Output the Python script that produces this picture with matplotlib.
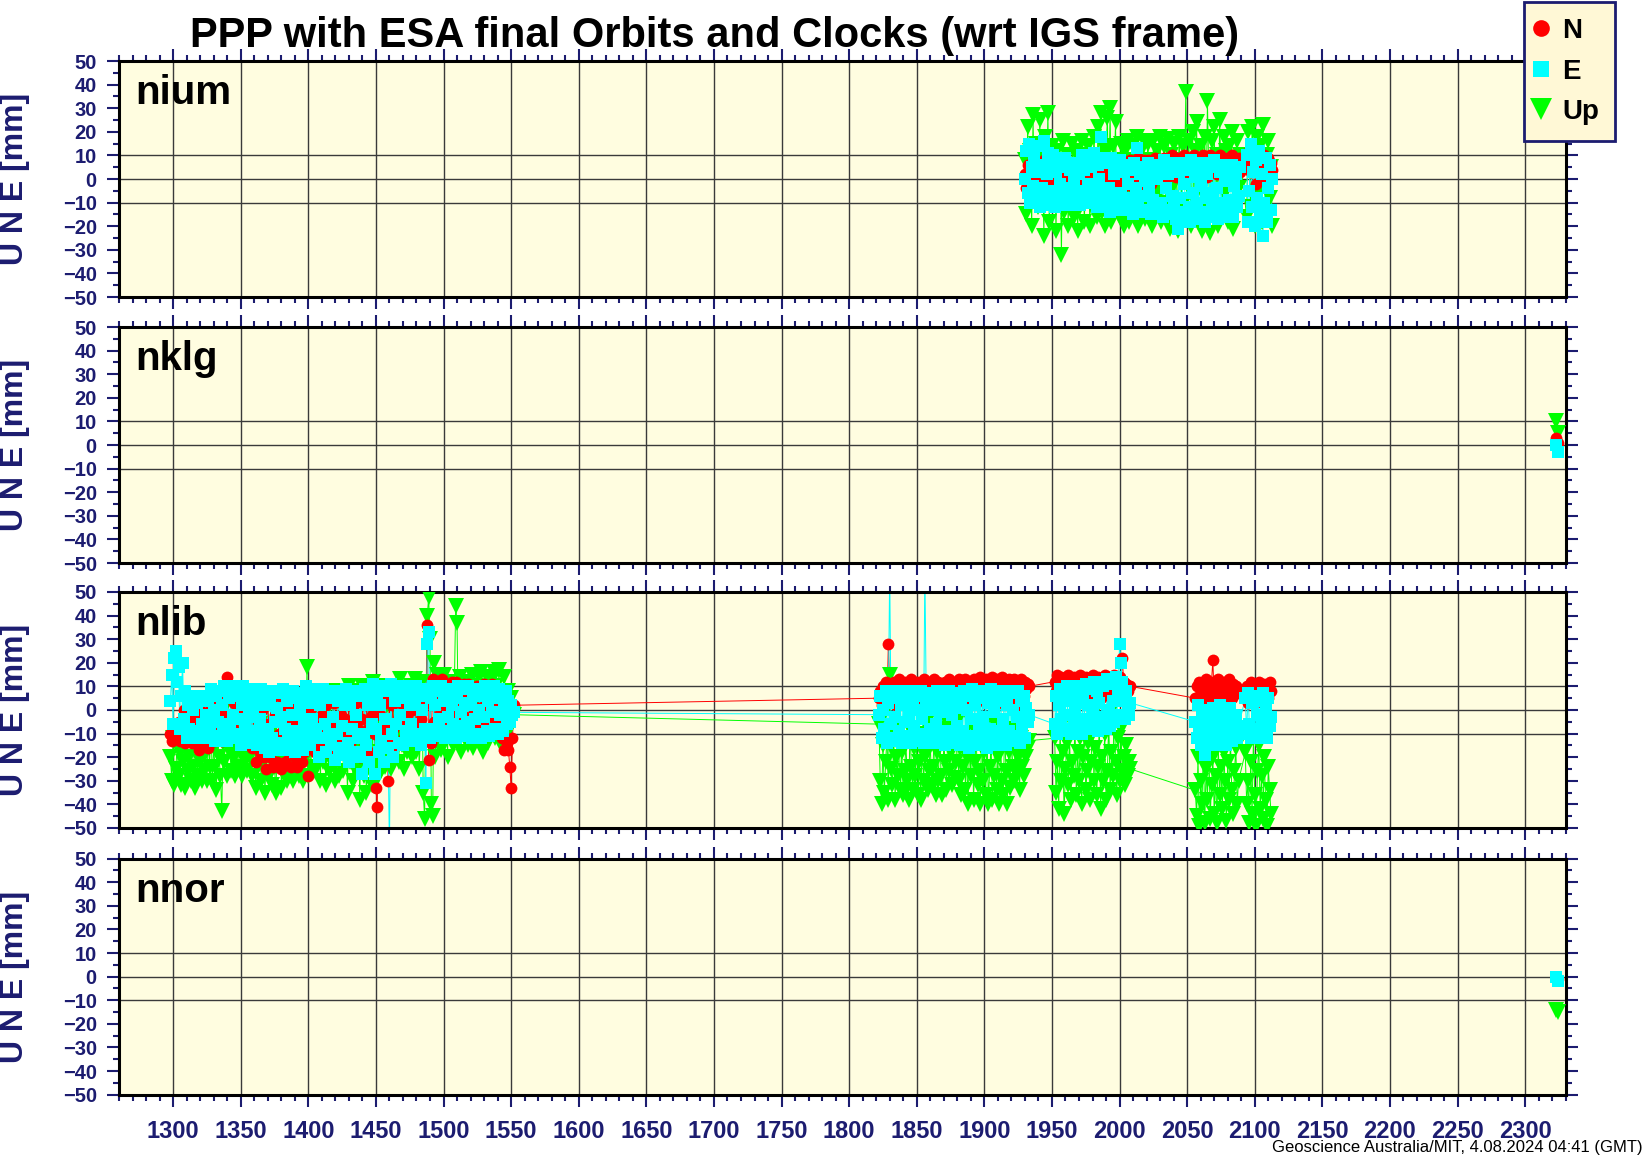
import matplotlib
matplotlib.use('Agg')
import matplotlib.pyplot as plt
import numpy as np
from matplotlib.lines import Line2D
from matplotlib.ticker import MultipleLocator

plt.rcParams['font.family'] = ['Liberation Sans', 'DejaVu Sans']

# ---- data (GPS week, mm), weekly samples ----
stations = ['nium', 'nklg', 'nlib', 'nnor']

nium_weeks = np.r_[np.arange(1930, 2090), np.arange(2094, 2114)]
nium_N = ([2, -4, 6, -1, 4, -6, 8, 0, -3, 5]
          + [-2, 6, -5, 3, 8, -4, 1, 5, -6, 2]
          + [4, -3, 7, 0, -5, 5, 2, -2, 6, -4]
          + [1, 6, -3, 4, -6, 7, 0, 3, -4, 5]
          + [-2, 6, 2, -5, 7, 1, -3, 5, 8, -1]
          + [3, -4, 6, 0, 8, -2, 4, 7, -5, 2]
          + [6, -1, 4, -5, 7, 2, -3, 5, 1, 8]
          + [0, 5, -4, 7, 3, -2, 6, 1, 8, -3]
          + [4, 7, -1, 5, 9, 2, -3, 6, 8, 0]
          + [5, 8, 2, -2, 7, 4, 9, 1, 6, 3]
          + [8, 2, 6, 9, 0, 5, 8, 3, 7, 10]
          + [4, 8, 1, 6, 9, 3, 7, 5, 10, 2]
          + [6, 9, 3, 8, 5, 10, 2, 7, 9, 4]
          + [8, 3, 10, 6, 9, 1, 7, 10, 4, 8]
          + [5, 9, 2, 8, 10, 4, 7, 9, 3, 6]
          + [9, 4, 8, 10, 5, 2, 8, 6, 9, 3]
          + [6, 10, 12, 3, 8, 5, 9, -2, 7, 4]
          + [8, 2, 6, 10, 0, 5, 9, 3, 7, 4])
nium_E = ([0, 12, -6, 15, -10, 5, -3, 10, -8, 3]
          + [14, -12, 6, -4, 16, -9, 2, 11, -11, 7]
          + [-5, 10, -12, 3, -8, 8, -2, -11, 5, -6]
          + [9, -4, -11, 4, -8, 7, -1, -10, 6, -6]
          + [2, -11, 10, -5, 4, -9, 8, -2, -10, 5]
          + [-7, 11, -3, -12, 6, 0, 18, -9, 9, -5]
          + [-12, 7, -4, -14, 9, -8, 2, -11, 6, -13]
          + [8, -6, -13, 3, -10, 6, -2, -12, 4, -8]
          + [-15, 7, -4, 13, -11, 2, -14, 5, -7, -1]
          + [-13, 7, -5, -15, 3, -9, 6, -12, 0, -14]
          + [5, -10, -16, 8, -4, -13, 2, -15, 7, -7]
          + [-11, 6, -17, -21, 3, -8, -14, 7, -2, -16]
          + [4, -12, -18, 8, -6, -15, 1, -10, 6, -17]
          + [-3, -14, 7, -18, -8, 2, -16, 5, -11, -6]
          + [8, -15, -4, -17, 3, -10, 6, -13, -1, -16]
          + [4, -9, -14, 6, -16, -3, 2, -12, -7, 5]
          + [10, -18, -5, 15, -12, 3, -20, 8, -8, 12]
          + [-15, 2, -24, -10, 9, -18, -4, 6, -13, 0])
nium_U = ([8, -15, 22, 0, 12, -20, 27, -8, 15, 5]
          + [-12, 25, -6, 10, -24, 18, -2, 28, -18, 6]
          + [14, -10, 4, -22, 12, -5, 8, -32, 16, -14]
          + [0, 10, -20, 6, -8, 15, -16, 2, 12, -22]
          + [8, -12, 16, 0, -18, 10, -6, 14, -20, 4]
          + [-10, 18, 6, -16, 22, 0, 28, -14, 10, -20]
          + [12, 26, -8, 30, -18, 14, 2, 24, -12, 8]
          + [-16, 15, 4, -20, 12, -6, 16, -18, 8, 0]
          + [14, -14, 6, 18, -20, 2, 12, -8, 16, -17]
          + [4, 15, -12, 8, -20, 16, 0, -15, 12, -6]
          + [18, -18, 6, 14, -10, 2, 17, -21, 10, -4]
          + [15, -16, 8, -22, 18, 4, -12, 14, 0, 37]
          + [-14, 16, 6, -20, 20, -8, 12, 24, -18, 4]
          + [14, -22, 8, 18, -12, 33, 2, -23, 16, -8]
          + [22, -16, 10, -20, 25, 4, -14, 18, -6, 12]
          + [-18, 14, 2, 20, -21, 8, -10, 16, -4, 10]
          + [-16, 20, 4, -12, 22, 10, -20, 6, 18, -6]
          + [14, -18, 23, 0, -14, 10, 16, -8, 5, -20])

nklg_weeks = [2323, 2324]
nklg_N = [3, 1]
nklg_E = [0, -3]
nklg_U = [10, 5]

nlib_weeks = np.r_[np.arange(1298, 1553), np.arange(1822, 1934), np.arange(1952, 2009),
                   np.arange(2056, 2089), np.arange(2093, 2113)]
nlib_N = ([-10, -13, -6, -12, -8, -11, -5, -13, -9, -7]
          + [0, -14, -6, 2, -11, -3, -14, 1, -8, -12]
          + [-4, -17, 0, -9, -15, -2, -12, -6, -16, 0]
          + [-8, 4, -13, -3, 2, -11, -6, 3, -13, -1]
          + [5, -8, 14, -2, -10, 8, -5, 3, -9, 6]
          + [-3, 7, -12, 0, -14, 5, -8, 2, -11, 6]
          + [-16, 3, -10, -22, -4, 2, -18, -8, 0, -20]
          + [-6, -25, 3, -12, -20, 5, -24, -2, -16, -22]
          + [-10, 6, -25, -15, 0, -22, -5, -18, 4, -24]
          + [-12, 2, -20, -6, -24, 4, -15, -22, -2, -18]
          + [-8, 7, -28, 0, -14, 5, -6, -18, 3, -10]
          + [6, -15, -2, 7, -12, 2, -18, -5, 6, -9]
          + [-16, 3, 8, -7, -12, 5, -2, -14, 8, -4]
          + [7, -10, 2, -14, 8, -5, -12, 3, 8, -8]
          + [-20, 6, -4, 8, -15, 2, -8, -18, 7, -2]
          + [5, -10, -33, -41, 8, -2, -15, 6, -9, 3]
          + [-6, -30, 7, -12, 2, -8, 6, -15, 4, -3]
          + [9, -5, 2, -12, 8, -2, 5, -8, 9, 0]
          + [-6, 10, -12, 4, 8, -4, 1, -10, 6, 3]
          + [36, -21, 8, -14, 13, -5, 3, -9, 10, -2]
          + [6, 13, -8, 2, 10, -5, 7, -9, 12, 0]
          + [-4, 12, 5, -10, 9, 1, -7, 11, -3, 6]
          + [11, -6, 4, 9, -2, 7, -5, 10, 1, -4]
          + [8, -8, 11, 2, -5, 9, -3, 6, 11, -7]
          + [4, 9, -6, 7, -2, -12, 5, -17, 3, -14]
          + [-17, -24, -33, -12, 2]
          # 1822-1933
          + [5, 8, 2, 10, 6, 12, 3, 28, 9, 11]
          + [4, 12, 7, 2, 10, 13, 5, 9, 3, 12]
          + [8, 2, 11, 6, 13, 4, 10, 7, 12, 3]
          + [11, 5, 9, 13, 2, 10, 7, 12, 4, 11]
          + [6, 13, 3, 9, 12, 5, 11, 8, 2, 12]
          + [9, 4, 13, 7, 11, 3, 12, 6, 10, 13]
          + [5, 12, 8, 2, 13, 10, 6, 12, 4, 11]
          + [13, 7, 3, 12, 9, 14, 5, 11, 8, 13]
          + [4, 12, 10, 6, 14, 8, 2, 13, 9, 11]
          + [6, 14, 3, 10, 12, 7, 13, 5, 11, 9]
          + [13, 4, 12, 8, 2, 13, 10, 6, 12, 9, 11, 10]
          # 1952-2008
          + [12, 8, 15, 10, 5, 14, 9, 13, 6, 11]
          + [15, 8, 12, 5, 14, 10, 7, 13, 9, 15]
          + [6, 12, 10, 14, 8, 13, 5, 11, 15, 9]
          + [12, 7, 14, 10, 5, 13, 9, 15, 8, 11]
          + [14, 6, 12, 9, 15, 7, 13, 10, 14, 11]
          + [22, 12, 9, 11, 8, 10, 10]
          # 2056-2088
          + [5, 10, 3, 12, 7, 11, 4, 9, 13, 6]
          + [10, 8, 12, 21, 5, 11, 9, 13, 7, 10]
          + [4, 12, 8, 11, 6, 13, 9, 5, 11, 8]
          + [10, 7, 9]
          # 2093-2112
          + [6, 10, 3, 9, 12, 5, 11, 8, 4, 10]
          + [12, 6, 9, 3, 11, 7, 10, 5, 12, 8])
nlib_E = ([4, 15, -6, 22, 25, 12, 18, -8, 6, 20]
          + [-4, 8, -12, 2, -8, 6, -11, 0, 5, -9]
          + [3, -12, 6, -6, -10, 4, -2, -12, 5, -7]
          + [9, -11, 0, -13, 6, -5, 8, -12, 2, -8]
          + [10, -6, -13, 5, -9, 8, -2, -12, 10, -4]
          + [-10, 6, -15, 2, 10, -8, -13, 4, -3, 9]
          + [-14, 0, 8, -9, -15, 5, -4, 9, -12, 2]
          + [-16, 6, -8, -18, 3, -12, 8, -5, -17, 1]
          + [7, -14, -3, 9, -17, -8, 4, -12, 6, -16]
          + [-2, 8, -18, -9, 5, -14, 0, 7, -17, -5]
          + [10, -10, 3, -15, 8, -4, -12, 6, -8, 9]
          + [-20, 2, -12, 9, -6, -18, 5, -10, 7, -15]
          + [-3, 8, -21, -10, 4, -16, 6, -7, -19, 2]
          + [9, -14, -22, 3, -8, 7, -18, -2, 8, -12]
          + [-20, 6, -27, -10, 9, -15, 2, -22, 5, -6]
          + [11, -27, -8, 6, -18, 2, -13, 10, -22, -4]
          + [8, -16, -60, 11, -10, -20, 4, -6, 9, -14]
          + [-2, 10, -15, 5, -9, 8, -12, 2, -6, 10]
          + [-13, 4, 10, -10, 6, -15, 0, 9, -8, -31]
          + [28, 33, -12, 5, 10, -8, 2, -11, 8, -4]
          + [10, -9, 4, -12, 7, -3, 9, -10, 2, -6]
          + [8, -12, 5, 10, -7, -1, 9, -11, 3, -5]
          + [10, -8, 2, -12, 7, -4, 9, -10, 0, 6]
          + [-12, 8, -3, 10, -9, 4, -11, 7, -1, 10]
          + [-8, 5, -10, 9, -2, 6, -9, 3, 8, -6]
          + [4, -5, 2, -2, -1]
          # 1822-1933
          + [-2, 6, -12, 0, -8, 8, -14, 3, 60, -6]
          + [-12, 5, -3, -13, 8, -9, 2, -14, 6, -5]
          + [7, -11, -2, 8, -14, 3, -7, 6, -13, 0]
          + [-10, 8, -4, -14, 60, 5, -12, 0, -8, 7]
          + [-14, 2, -6, 8, -13, -1, 6, -11, 4, -15]
          + [3, -9, 8, -14, -2, 6, -12, 1, -7, 7]
          + [-15, 4, -9, 8, -13, 0, 6, -16, -4, 9]
          + [-11, 2, -15, 7, -6, -14, 8, -3, -10, 5]
          + [-16, 3, -8, 9, -13, -1, 7, -15, 4, -9]
          + [8, -12, -4, 6, -15, 2, -9, 8, -13, 0]
          + [7, -11, -3, 8, -14, 4, -7, 6, -12, 1, -5, -2]
          # 1952-2008
          + [-6, 6, -10, 2, 9, -4, -9, 5, -2, 10]
          + [-8, 4, -10, 8, -3, 1, -9, 10, -6, 3]
          + [-10, 7, -4, 11, -8, 2, 9, -7, -1, 12]
          + [-5, 8, -9, 3, 12, -6, 10, -3, -8, 13]
          + [0, -7, 11, 4, -5, 14, -2, 9, 28, 20]
          + [12, 4, -4, 8, 0, -2, 3]
          # 2056-2088
          + [-5, -12, 2, -8, -15, -1, -10, -19, -4, -13]
          + [0, -9, -14, 1, -6, -15, -2, -11, 2, -13]
          + [-7, -12, 0, -15, -4, -10, 1, -13, -6, -9]
          + [-2, -12, -7]
          # 2093-2112
          + [5, -10, 7, -6, -12, 3, -8, 6, -11, -2]
          + [4, -12, -5, 7, -9, 0, -12, 5, -7, -3])
nlib_U = ([-20, -30, -12, -32, -25, -15, -28, -18, -32, -22]
          + [-14, -33, -8, -26, -20, -30, -12, -24, -33, -16]
          + [-28, -10, -22, -30, -14, -26, -18, -30, -12, -24]
          + [-5, -30, -16, -24, -34, -10, -20, -28, -43, -14]
          + [-22, 2, -28, -12, -18, -26, -6, -20, -28, -10]
          + [-24, 5, -18, -28, -8, -22, -14, -26, 0, -20]
          + [-28, -10, 3, -33, -18, -24, -6, -30, -14, -22]
          + [-35, -12, 4, -28, -20, -32, -8, -24, -35, -16]
          + [-22, 0, -33, -14, -26, -8, -30, -18, -4, -28]
          + [-12, -30, 4, -24, -16, -28, -6, -22, -30, -10]
          + [-20, 18, -28, -10, -24, 5, -16, -26, 2, -18]
          + [-8, -30, 8, -22, -14, -32, 0, -26, -10, -20]
          + [8, -24, -30, -12, 4, -28, -18, -6, -26, 6]
          + [-16, -35, 10, -22, -8, -30, 2, -26, -14, 8]
          + [-38, -12, 10, -28, -20, -35, 4, -24, -10, -32]
          + [12, -22, -30, -6, 8, -18, -26, 10, -14, -24]
          + [2, -20, 10, -25, -8, 6, -18, -12, 9, -22]
          + [13, -15, -6, -25, 8, -18, 2, -12, 10, -20]
          + [-8, 13, -18, 6, -25, -10, 12, -35, -46, 4]
          + [40, 48, 30, -40, -45, 20, -20, 15, -8, 13]
          + [-17, 5, 15, -12, 8, -20, 12, -6, 2, -15]
          + [10, 44, 37, -12, 14, -18, 6, 10, -8, 3]
          + [-15, 12, -6, 15, -16, 4, 10, -10, 14, -4]
          + [16, -18, 8, -10, 14, -14, 4, 12, -8, 16]
          + [-12, 10, -4, 17, -14, 6, -8, 14, 2, -10]
          + [8, -4, 5, -2, -2]
          # 1822-1933
          + [-6, -30, -40, -15, -35, -22, -10, -38, 15, -25]
          + [-32, -12, -38, -20, -28, -8, -34, -18, -36, -26]
          + [-14, -30, -38, -8, -24, -34, -16, -28, -10, -36]
          + [-22, -38, -12, -30, -20, -6, -34, -26, -14, -32]
          + [-24, -10, -36, -18, -30, -8, -28, -36, -14, -22]
          + [-34, -6, -26, -18, -32, -12, -29, -22, -5, -30]
          + [-16, -36, -24, -10, -34, -20, -40, -14, -28, -6]
          + [-38, -22, -12, -32, -26, -40, -8, -30, -18, -36]
          + [-10, -40, -24, -16, -38, -28, -6, -34, -20, -40]
          + [-14, -30, -36, -8, -26, -40, -18, -33, -12, -24]
          + [-30, -8, -27, -20, -34, -12, -24, -28, -6, -20, -16, -13]
          # 1952-2008
          + [-12, -35, -22, -42, -8, -30, -18, -44, -25, -14]
          + [-32, -10, -38, -22, -28, -5, -36, -18, -30, -12]
          + [-40, -20, -8, -34, -26, -14, -38, -22, -2, -30]
          + [-16, -36, -24, -6, -42, -20, -30, -10, -38, -26]
          + [-4, -34, -18, -28, 2, -22, -36, -12, -30, -8]
          + [-26, -20, -32, -15, -28, -22, -25]
          # 2056-2088
          + [-34, -45, -20, -49, -30, -40, -15, -48, -25, -38]
          + [-12, -46, -32, -20, -44, -28, -48, -15, -36, -24]
          + [-42, -18, -30, -47, -22, -38, -12, -34, -44, -26]
          + [-16, -40, -30]
          # 2093-2112
          + [-18, -40, -30, -48, -22, -44, -12, -36, -49, -26]
          + [-15, -42, -28, -46, -20, -38, -49, -24, -34, -44])

nnor_weeks = [2323, 2324]
nnor_N = [0, -1]
nnor_E = [0, -2]
nnor_U = [-14, -15]

data = {
    'nium': (nium_weeks, nium_N, nium_E, nium_U),
    'nklg': (nklg_weeks, nklg_N, nklg_E, nklg_U),
    'nlib': (nlib_weeks, nlib_N, nlib_E, nlib_U),
    'nnor': (nnor_weeks, nnor_N, nnor_E, nnor_U),
}

# ---- style ----
navy = '#1C1C70'
bg = '#FFFDE0'
c_n, c_e, c_u = '#FF0000', '#00FFFF', '#00FF00'

fig = plt.figure(figsize=(16.44, 11.58), dpi=100)
bottoms = [0.7435, 0.5138, 0.2850, 0.0547]
left, width, height = 0.0724, 0.880, 0.2038

for i, name in enumerate(stations):
    wk, n, e, u = data[name]
    ax = fig.add_axes([left, bottoms[i], width, height])
    ax.set_facecolor(bg)
    # connecting lines first, symbols on top of all lines
    for vals, col in ((u, c_u), (n, c_n), (e, c_e)):
        ax.plot(wk, vals, color=col, lw=0.7, zorder=2)
    ax.plot(wk, u, ls='none', color=c_u, marker='v', ms=11, mew=0, zorder=3)
    ax.plot(wk, n, ls='none', color=c_n, marker='o', ms=8.5, mew=0, zorder=3)
    ax.plot(wk, e, ls='none', color=c_e, marker='s', ms=9, mew=0, zorder=3)

    ax.set_xlim(1260, 2330)
    ax.set_ylim(-50, 50)
    ax.xaxis.set_major_locator(MultipleLocator(50))
    ax.xaxis.set_minor_locator(MultipleLocator(10))
    ax.yaxis.set_major_locator(MultipleLocator(10))
    ax.yaxis.set_minor_locator(MultipleLocator(5))

    ax.grid(axis='x', which='major', color='#3a3a3a', lw=1, zorder=1)
    for yv in (-10, 0, 10):
        ax.axhline(yv, color='#3a3a3a', lw=1, zorder=1)
    ax.set_axisbelow(True)

    for sp in ax.spines.values():
        sp.set_linewidth(2.2)
        sp.set_color('black')

    ax.tick_params(which='both', direction='out', top=True, right=True,
                   color=navy, width=1.5, labelcolor=navy)
    ax.tick_params(which='major', length=8.5)
    ax.tick_params(which='minor', length=4.5)
    ax.tick_params(axis='y', labelsize=14.5, pad=7.5)
    ax.tick_params(axis='x', labelsize=17, pad=9.5, labelbottom=(i == 3))
    plt.setp(ax.get_yticklabels(), fontweight='bold')
    plt.setp(ax.get_xticklabels(), fontweight='bold')

    ax.set_ylabel('U N E [mm]', fontsize=23, fontweight='bold', color=navy)
    ax.yaxis.set_label_coords(-0.0615, 0.5)

    ax.text(0.011, 0.818, name, transform=ax.transAxes, fontsize=29,
            fontweight='bold', va='baseline', zorder=5)

fig.text(0.4346, 1 - 46.7 / 1158, 'PPP with ESA final Orbits and Clocks (wrt IGS frame)',
         ha='center', va='baseline', fontsize=30, fontweight='bold')

handles = [Line2D([], [], ls='none', marker='o', ms=12, mew=0, color=c_n),
           Line2D([], [], ls='none', marker='s', ms=11, mew=0, color=c_e),
           Line2D([], [], ls='none', marker='v', ms=16, mew=0, color=c_u)]
leg = fig.legend(handles, ['N', 'E', 'Up'], loc='upper right',
                 bbox_to_anchor=(0.9824, 0.9983), prop=dict(weight='bold', size=20),
                 frameon=True, fancybox=False, edgecolor=navy, facecolor='#FFF8D6',
                 framealpha=1, handlelength=0.1, handletextpad=0.7,
                 labelspacing=0.52, borderpad=0.58, borderaxespad=0)
leg.get_frame().set_linewidth(2)

fig.text(0.999, 1 - 1152 / 1158, 'Geoscience Australia/MIT, 4.08.2024 04:41 (GMT)',
         ha='right', va='baseline', fontsize=12)

fig.savefig('out.png', dpi=100)
